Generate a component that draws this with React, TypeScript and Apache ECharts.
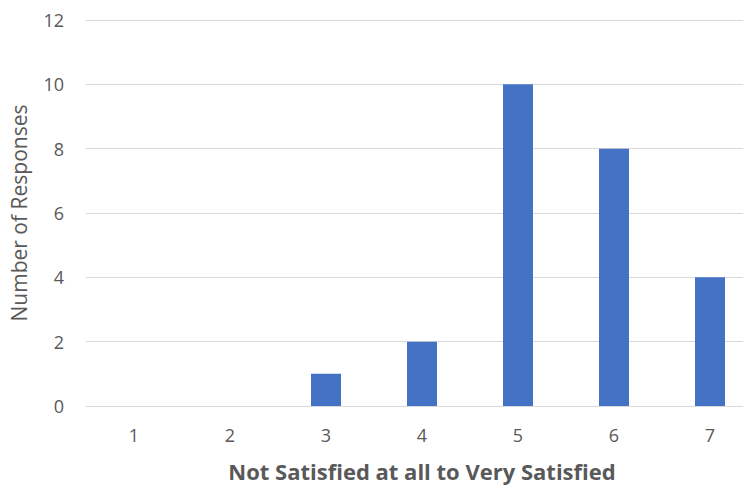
import React, { useEffect, useRef } from "react";
import * as echarts from "echarts";

const categories = ["1", "2", "3", "4", "5", "6", "7"];
const responses = [0, 0, 1, 2, 10, 8, 4];
const xAxisTitle = "Not Satisfied at all to Very Satisfied";
const yAxisTitle = "Number of Responses";

export default function App() {
  const ref = useRef<HTMLDivElement>(null);
  useEffect(() => {
    if (!ref.current) return;
    const chart = echarts.init(ref.current, undefined, { renderer: "svg" });
    chart.setOption({
      animation: false,
      backgroundColor: "#ffffff",
      grid: { left: 86, right: 2, top: 20, bottom: 80, outerBoundsMode: "none", containLabel: false },
      xAxis: {
        type: "category",
        data: categories,
        name: xAxisTitle,
        nameLocation: "middle",
        nameGap: 54,
        nameTextStyle: { fontFamily: "Open Sans", fontWeight: "bold", fontSize: 22, lineHeight: 22, color: "#595959" },
        axisLine: { show: true, lineStyle: { color: "#d9d9d9", width: 1 } },
        axisTick: { show: false },
        axisLabel: { margin: 20, fontFamily: "Open Sans", fontSize: 18, color: "#595959" },
      },
      yAxis: {
        type: "value",
        min: 0,
        max: 12,
        interval: 2,
        name: yAxisTitle,
        nameLocation: "middle",
        nameGap: 57,
        nameTextStyle: { fontFamily: "Open Sans", fontSize: 21, color: "#595959" },
        axisLine: { show: false },
        axisTick: { show: false },
        axisLabel: { margin: 22, fontFamily: "Open Sans", fontSize: 18, color: "#595959" },
        splitLine: { lineStyle: { color: "#d9d9d9", width: 1 } },
      },
      series: [
        {
          type: "bar",
          data: responses,
          barWidth: 30,
          itemStyle: { color: "#4472C4" },
        },
      ],
    });
    return () => chart.dispose();
  }, []);
  return (
    <div
      style={{ position: "fixed", left: 0, top: 0, width: 743, height: 486, overflow: "hidden", background: "#fff" }}
    >
      <div ref={ref} style={{ position: "absolute", left: 0, top: 0, width: 760, height: 486 }} />
    </div>
  );
}
